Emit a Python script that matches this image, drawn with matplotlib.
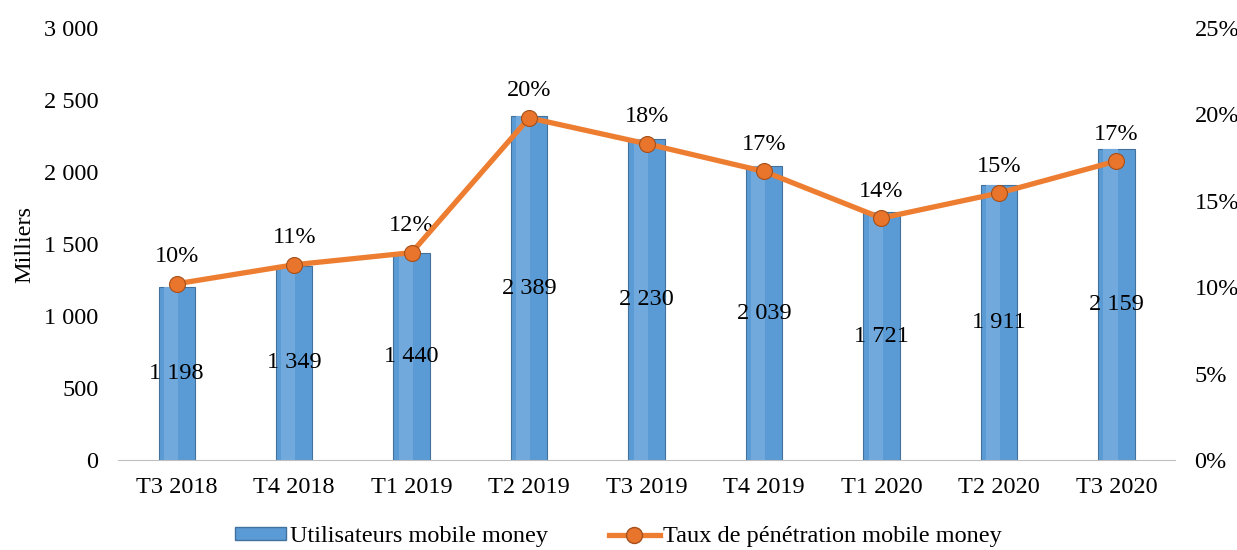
import matplotlib
matplotlib.use("Agg")
import matplotlib.pyplot as plt
from matplotlib.ticker import FuncFormatter, MultipleLocator
from matplotlib.lines import Line2D
from matplotlib.patches import Patch
import numpy as np

categories = ["T3 2018", "T4 2018", "T1 2019", "T2 2019", "T3 2019",
              "T4 2019", "T1 2020", "T2 2020", "T3 2020"]
users = [1198, 1349, 1440, 2389, 2230, 2039, 1721, 1911, 2159]
penetration = [10.2, 11.3, 12.0, 19.8, 18.3, 16.7, 14.0, 15.45, 17.3]
pen_labels = ["10%", "11%", "12%", "20%", "18%", "17%", "14%", "15%", "17%"]

plt.rcParams['font.family'] = ['Liberation Serif', 'DejaVu Serif']
FS = 17.5

fig = plt.figure(figsize=(12.37, 5.5), dpi=100)
ax = fig.add_axes([0.0954, 0.1636, 0.8546, 0.7855])
ax2 = ax.twinx()

x = np.arange(len(categories))
bar_color = "#5B9BD5"
ax.bar(x, users, width=0.31, color=bar_color, edgecolor="#41719C",
       linewidth=0.8, zorder=2)
# highlight strip for a slight 3D look
ax.bar(x - 0.05, users, width=0.12, color="#72A9DD", linewidth=0, zorder=2.5)

for xi, v in zip(x, users):
    s = f"{v:,}".replace(",", " ")
    ax.text(xi, v / 2, s, ha="center", va="center", fontsize=FS, color="black", zorder=3)

ax.set_xlim(-0.5, len(categories) - 0.5)
ax.set_ylim(0, 3000)
ax.yaxis.set_major_locator(MultipleLocator(500))
ax.yaxis.set_major_formatter(FuncFormatter(lambda v, p: f"{int(v):,}".replace(",", " ")))
ax.set_xticks(x)
ax.set_xticklabels(categories, fontsize=FS)
ax.tick_params(axis="both", length=0, labelsize=FS)
ax.tick_params(axis="y", pad=14)
ax.tick_params(axis="x", pad=12)
ax.set_ylabel("Milliers", fontsize=FS, labelpad=6)

for sp in ["top", "left", "right"]:
    ax.spines[sp].set_visible(False)
    ax2.spines[sp].set_visible(False)
ax.spines["bottom"].set_color("#BFBFBF")
ax2.spines["bottom"].set_visible(False)

line_color = "#ED7D31"
ax2.plot(x, penetration, color=line_color, linewidth=3.8, zorder=4,
         marker="o", markersize=11.5, markerfacecolor="#E9742B",
         markeredgecolor="#A5501A", markeredgewidth=0.8)
ax2.set_ylim(0, 25)
ax2.yaxis.set_major_locator(MultipleLocator(5))
ax2.yaxis.set_major_formatter(FuncFormatter(lambda v, p: f"{int(round(v))}%"))
ax2.tick_params(axis="y", length=0, labelsize=FS, pad=14)

for xi, v, lab in zip(x, penetration, pen_labels):
    ax2.text(xi, v + 0.95, lab, ha="center", va="bottom", fontsize=FS, color="black")

ax.set_zorder(1)
ax2.set_zorder(2)
ax2.patch.set_visible(False)

handles = [Patch(facecolor=bar_color, edgecolor="#41719C"),
           Line2D([0], [0], color=line_color, linewidth=3.8, marker="o", markersize=11.5,
                  markerfacecolor="#E9742B", markeredgecolor="#A5501A")]
fig.legend(handles, ["Utilisateurs mobile money", "Taux de pénétration mobile money"],
           loc="lower center", bbox_to_anchor=(0.5, -0.035), ncol=2, frameon=False,
           fontsize=FS, handlelength=2.1, handleheight=0.45, columnspacing=2.5,
           handletextpad=0.15)

fig.savefig("out.png", dpi=100)
